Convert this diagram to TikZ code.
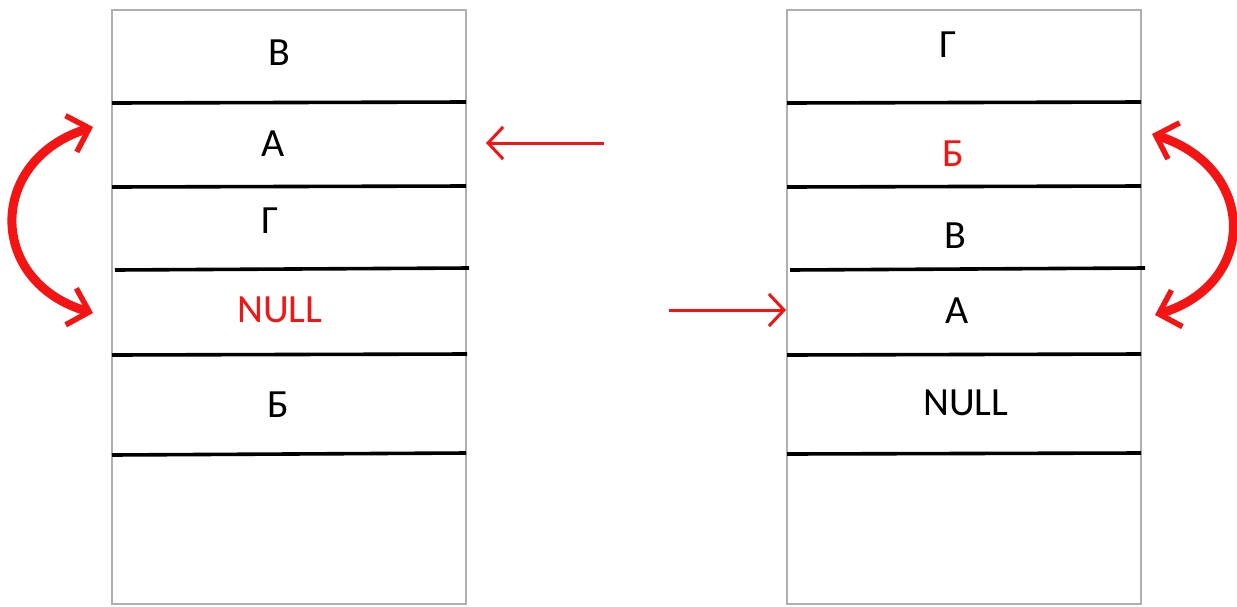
\documentclass[tikz,border=0pt]{standalone}
\usepackage{fontspec}
\setmainfont{Carlito}
\usetikzlibrary{arrows.meta}
\definecolor{myred}{RGB}{245,20,20}
\definecolor{boxgray}{RGB}{175,175,175}
\begin{document}
\begin{tikzpicture}[x=1pt,y=-1pt,
  cell/.style={font=\fontsize{40}{44}\selectfont, inner sep=0pt, text height=0.644em, text depth=0pt, anchor=center},
  redtext/.style={text=myred},
  sepline/.style={line width=3.6pt, black},
  frame/.style={draw=boxgray, line width=1.2pt},
  bigarr/.style={draw=myred, line width=9pt,
     {Straight Barb[length=19pt,width=38pt,line width=5.5pt]}-{Straight Barb[length=19pt,width=38pt,line width=5.5pt]}},
  smallarr/.style={draw=myred, line width=3pt, -{Straight Barb[length=15pt,width=32pt,line width=3pt]}}]
\useasboundingbox (0,0) rectangle (1237,606);
\fill[white] (0,0) rectangle (1237,606);
% frames
\draw[frame] (112,10) rectangle (466,604);
\draw[frame] (787,10) rectangle (1141,604);
% separator lines left
\draw[sepline] (112,103) -- (466,102);
\draw[sepline] (112,187) -- (466,186);
\draw[sepline] (115,270) -- (469,268);
\draw[sepline] (112,355) -- (467,354);
\draw[sepline] (112,455) -- (466,453);
% separator lines right
\draw[sepline] (787,103) -- (1141,102);
\draw[sepline] (787,187) -- (1141,186);
\draw[sepline] (790,270) -- (1145,268);
\draw[sepline] (787,355) -- (1141,354);
\draw[sepline] (787,454) -- (1141,453);
% left texts
\node[cell] (l1) at (279,62) {В};
\node[cell] (l2) at (273,153) {А};
\node[cell] (l3) at (270,230) {Г};
\node[cell,redtext] (l4) at (280,319) {NULL};
\node[cell] (l5) at (278,414) {Б};
% right texts
\node[cell] (r1) at (948,54) {Г};
\node[cell,redtext] (r2) at (953,163) {Б};
\node[cell] (r3) at (955,245) {В};
\node[cell] (r4) at (957,320) {А};
\node[cell] (r5) at (966,412) {NULL};
% arrow end points
\coordinate (la) at (93,127);
\coordinate (lb) at (93,313);
\coordinate (ra) at (1152,134);
\coordinate (rb) at (1155,315);
\coordinate (s1tail) at (604,143);
\coordinate (s1tip) at (486,143);
\coordinate (s2tail) at (669,310);
\coordinate (s2tip) at (786,310);
% curved arrows
\draw[bigarr] (la) .. controls (-13,160) and (-13,282) .. (lb);
\draw[bigarr] (ra) .. controls (1258,168) and (1258,284) .. (rb);
% straight arrows
\draw[smallarr] (s1tail) -- (s1tip);
\draw[smallarr] (s2tail) -- (s2tip);
\end{tikzpicture}
\end{document}
